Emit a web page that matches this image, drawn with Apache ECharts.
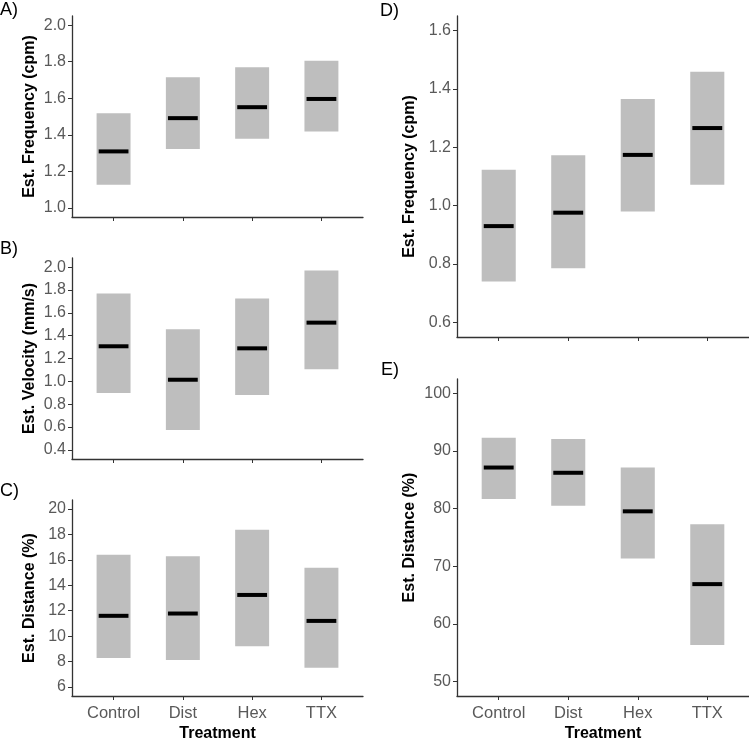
<!DOCTYPE html>
<html>
<head>
<meta charset="utf-8">
<script src="https://cdn.jsdelivr.net/npm/echarts@6/dist/echarts.min.js"></script>
<style>
html,body{margin:0;padding:0;background:#fff;}
#chart{width:749px;height:743px;}
</style>
</head>
<body>
<div id="chart"></div>
<script>
// ---- Data ----
const categories = ['Control', 'Dist', 'Hex', 'TTX'];

// A) Est. Frequency (cpm)
const freqA_est = [1.309, 1.491, 1.551, 1.596];
const freqA_lo  = [1.127, 1.322, 1.378, 1.418];
const freqA_hi  = [1.518, 1.715, 1.769, 1.805];
const freqA_ticks = [1.0, 1.2, 1.4, 1.6, 1.8, 2.0];

// B) Est. Velocity (mm/s)
const velB_est = [1.307, 1.014, 1.289, 1.514];
const velB_lo  = [0.897, 0.573, 0.880, 1.105];
const velB_hi  = [1.769, 1.456, 1.725, 1.971];
const velB_ticks = [0.4, 0.6, 0.8, 1.0, 1.2, 1.4, 1.6, 1.8, 2.0];

// C) Est. Distance (%)
const distC_est = [11.60, 11.78, 13.24, 11.20];
const distC_lo  = [8.28, 8.12, 9.20, 7.51];
const distC_hi  = [16.39, 16.29, 18.36, 15.37];
const distC_ticks = [6, 8, 10, 12, 14, 16, 18, 20];

// D) Est. Frequency (cpm)
const freqD_est = [0.930, 0.976, 1.174, 1.266];
const freqD_lo  = [0.740, 0.786, 0.980, 1.072];
const freqD_hi  = [1.123, 1.173, 1.366, 1.459];
const freqD_ticks = [0.6, 0.8, 1.0, 1.2, 1.4, 1.6];

// E) Est. Distance (%)
const distE_est = [87.14, 86.23, 79.54, 66.91];
const distE_lo  = [81.66, 80.51, 71.37, 56.34];
const distE_hi  = [92.29, 92.11, 87.14, 77.31];
const distE_ticks = [50, 60, 70, 80, 90, 100];

// ---- Layout / styling ----
const FONT = 'Liberation Sans, Arial, sans-serif';
const AXIS_COLOR = '#333333';
const LABEL_COLOR = '#595959';
const BOX_COLOR = '#bebebe';

const panels = [
  {letter:'A)', lx:0,   ly:1,   grid:{left:72,  top:16,  width:291, height:201}, est:freqA_est, lo:freqA_lo, hi:freqA_hi, ticks:freqA_ticks, min:0.95, max:2.05, dec:1, title:'Est. Frequency (cpm)', gap:34, showX:false},
  {letter:'B)', lx:0,   ly:240, grid:{left:72,  top:258, width:291, height:201}, est:velB_est,  lo:velB_lo,  hi:velB_hi,  ticks:velB_ticks,  min:0.32, max:2.08, dec:1, title:'Est. Velocity (mm/s)', gap:34, showX:false},
  {letter:'C)', lx:0,   ly:482, grid:{left:72,  top:500, width:291, height:201}, est:distC_est, lo:distC_lo, hi:distC_hi, ticks:distC_ticks, min:5.3,  max:20.7, dec:0, title:'Est. Distance (%)',    gap:34, showX:true},
  {letter:'D)', lx:380, ly:2,   grid:{left:457, top:16,  width:292, height:321}, est:freqD_est, lo:freqD_lo, hi:freqD_hi, ticks:freqD_ticks, min:0.55, max:1.65, dec:1, title:'Est. Frequency (cpm)', gap:39, showX:false},
  {letter:'E)', lx:381, ly:361, grid:{left:457, top:379, width:292, height:322}, est:distE_est, lo:distE_lo, hi:distE_hi, ticks:distE_ticks, min:47.5, max:102.5, dec:0, title:'Est. Distance (%)',  gap:39, showX:true}
];

const catPositions = categories.map((c, i) => i + 1);

const option = {
  animation: false,
  backgroundColor: '#ffffff',
  grid: [], xAxis: [], yAxis: [], series: [], graphic: []
};

panels.forEach((p, k) => {
  option.grid.push(Object.assign({containLabel:false}, p.grid));
  option.xAxis.push({
    type: 'value', gridIndex: k, min: 0.4, max: 4.6,
    axisLine: {show: true, onZero: false, lineStyle: {color: AXIS_COLOR, width: 1.3}},
    axisTick: {show: true, length: 4, customValues: catPositions, lineStyle: {color: AXIS_COLOR, width: 1}},
    axisLabel: {show: p.showX, customValues: catPositions, margin: 9, color: LABEL_COLOR,
      fontFamily: FONT, fontSize: 16.5, formatter: v => categories[Math.round(v) - 1] || ''},
    splitLine: {show: false},
    name: p.showX ? 'Treatment' : '', nameLocation: 'middle', nameGap: 30,
    nameTextStyle: {fontFamily: FONT, fontSize: 16, fontWeight: 'bold', color: '#000'}
  });
  option.yAxis.push({
    type: 'value', gridIndex: k, min: p.min, max: p.max,
    axisLine: {show: true, onZero: false, lineStyle: {color: AXIS_COLOR, width: 1.3}},
    axisTick: {show: true, length: 4, customValues: p.ticks, lineStyle: {color: AXIS_COLOR, width: 1}},
    axisLabel: {show: true, customValues: p.ticks, margin: 6, color: LABEL_COLOR,
      fontFamily: FONT, fontSize: 16, formatter: v => Number(v).toFixed(p.dec)},
    splitLine: {show: false},
    name: p.title, nameLocation: 'middle', nameGap: p.gap, nameRotate: 90,
    nameTextStyle: {fontFamily: FONT, fontSize: 16, fontWeight: 'bold', color: '#000'}
  });
  const data = categories.map((c, i) => [i + 1, p.lo[i], p.hi[i], p.est[i]]);
  option.series.push({
    type: 'custom', xAxisIndex: k, yAxisIndex: k, data: data, clip: false,
    encode: {x: 0, y: [1, 2, 3]},
    renderItem: function (params, api) {
      const x = api.value(0), lo = api.value(1), hi = api.value(2), est = api.value(3);
      const a = api.coord([x - 0.245, hi]);
      const b = api.coord([x + 0.245, lo]);
      const m1 = api.coord([x - 0.215, est]);
      const m2 = api.coord([x + 0.215, est]);
      return {
        type: 'group',
        children: [
          {type: 'rect', shape: {x: a[0], y: a[1], width: b[0] - a[0], height: b[1] - a[1]},
           style: {fill: BOX_COLOR}},
          {type: 'line', shape: {x1: m1[0], y1: m1[1], x2: m2[0], y2: m2[1]},
           style: {stroke: '#000', lineWidth: 4}}
        ]
      };
    }
  });
  option.graphic.push({
    type: 'text', left: p.lx, top: p.ly,
    style: {text: p.letter, font: '18px ' + FONT, fill: '#000'}
  });
});

const chart = echarts.init(document.getElementById('chart'), null, {renderer: 'canvas'});
chart.setOption(option);
</script>
</body>
</html>
